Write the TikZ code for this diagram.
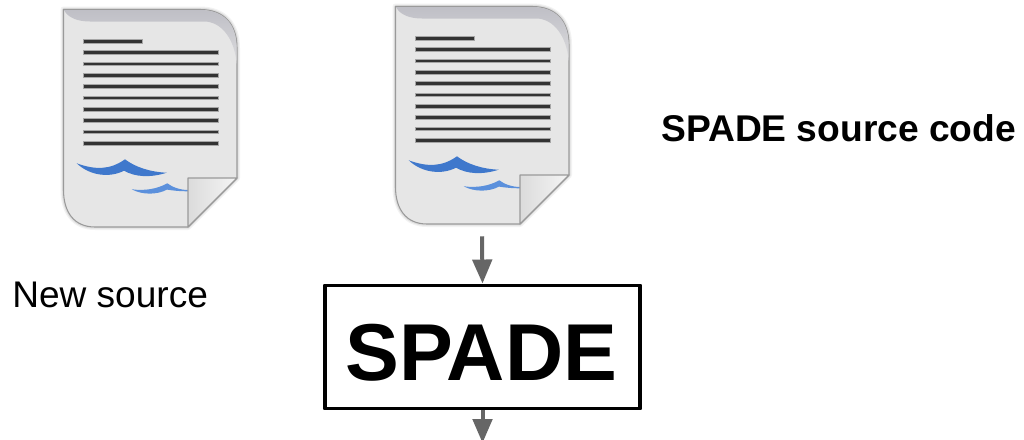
\documentclass[tikz,border=0pt]{standalone}
\usepackage{fontspec}
\setmainfont{Liberation Sans}
\usetikzlibrary{arrows.meta}
\definecolor{pagefill}{HTML}{E6E6E6}
\definecolor{lineink}{HTML}{333333}
\definecolor{edgeink}{HTML}{9A9A9A}
\definecolor{swooshA}{HTML}{3F78CC}
\definecolor{swooshB}{HTML}{5B90DC}
\definecolor{conn}{HTML}{666666}
\definecolor{foldtop}{HTML}{BFBFC6}
\definecolor{foldlow}{HTML}{DCDCDE}
\tikzset{
  x=0.75pt,y=-0.75pt,
  textline/.style={fill=lineink,draw=gray!70,line width=0.25pt},
  conarrow/.style={draw=conn,line width=3pt,-{Triangle[length=18pt,width=14.5pt,fill=conn]}},
  spadebox/.style={draw=black,line width=2.7pt,line join=round,fill=white,minimum width=236.5pt,minimum height=92.5pt,inner sep=0pt,font=\fontsize{60.5}{61}\selectfont\bfseries},
  doctag/.style={inner sep=0pt,minimum width=130.5pt,minimum height=172.5pt},
  lab/.style={inner sep=0pt,anchor=base west,font=\fontsize{27.8}{30}\selectfont},
  docicon/.pic={
    % soft shadow
    \path[draw=black,opacity=0.05,line width=4.5pt,line join=round] (63.5,9.5) -- (200,9.5) .. controls (224,9.5) and (237,24) .. (237,48) -- (237,178) -- (188,227) -- (95,227) .. controls (74,227) and (63.5,212) .. (63.5,190) -- cycle;
    \path[draw=black,opacity=0.08,line width=2.6pt,line join=round] (63.5,9.5) -- (200,9.5) .. controls (224,9.5) and (237,24) .. (237,48) -- (237,178) -- (188,227) -- (95,227) .. controls (74,227) and (63.5,212) .. (63.5,190) -- cycle;
    % page
    \path[fill=pagefill,draw=edgeink,line width=0.8pt,line join=round] (63.5,9.5) -- (200,9.5) .. controls (224,9.5) and (237,24) .. (237,48) -- (237,178) -- (188,227) -- (95,227) .. controls (74,227) and (63.5,212) .. (63.5,190) -- cycle;
    % top fold
    \path[top color=foldtop,bottom color=foldlow,draw=none] (64,10) -- (200,10) .. controls (224,10) and (236.6,24) .. (236.6,48) -- (236.6,64) .. controls (235,40) and (222,21.5) .. (204,21.5) -- (90,21.5) .. controls (78,21.5) and (68,18) .. (64,10) -- cycle;
    % text lines
    \foreach \yy/\xe in {41.3/142,52.3/218,63.7/218,75/218,86.3/218,97.7/218,109/218,120.3/218,131.7/218,143/218}
      \path[textline] (83,\yy-1.9) rectangle (\xe,\yy+1.9);
    % swooshes
    \path[fill=swooshA] (76.7,163.3) .. controls (95,170) and (110,170) .. (125,159.3) .. controls (135,167) and (150,172) .. (166.7,172.7) .. controls (150,178) and (135,177) .. (124,170.7) .. controls (110,178) and (90,176) .. (76.7,163.3) -- cycle;
    \path[fill=swooshB] (131.7,189.3) .. controls (145,191) and (157,189) .. (167.3,183.3) .. controls (172,187) and (180,190) .. (188,190) -- (188,191.3) .. controls (180,191.3) and (172,190.5) .. (167,189.6) .. controls (157,195) and (142,195) .. (131.7,189.3) -- cycle;
    % page curl
    \path[left color=gray!28,right color=gray!8,draw=edgeink,line width=0.9pt,line join=round] (188,178) -- (237,178) -- (188,227) -- cycle;
  }
}
\begin{document}
\begin{tikzpicture}
\useasboundingbox (0,0) rectangle (1024,439);
\node[doctag] (doc1) at (150,118) {};
\node[doctag] (doc2) at (482,121) {};
\pic at (0,0) {docicon};
\pic at (332,-3) {docicon};
\node[lab] (newsource) at (12,307) {New source};
\node[lab,font=\fontsize{27.9}{30}\selectfont\bfseries] (codelabel) at (661,141) {SPADE source code};
\node[spadebox] (spade) at (482.5,347) {\raisebox{-25pt}[0pt][0pt]{\hspace*{-2pt}SPADE}};
\coordinate (out) at (482.5,443);
\draw[conarrow] (doc2.south) -- (spade.north);
\draw[conarrow] (spade.south) -- (out);
\end{tikzpicture}
\end{document}
